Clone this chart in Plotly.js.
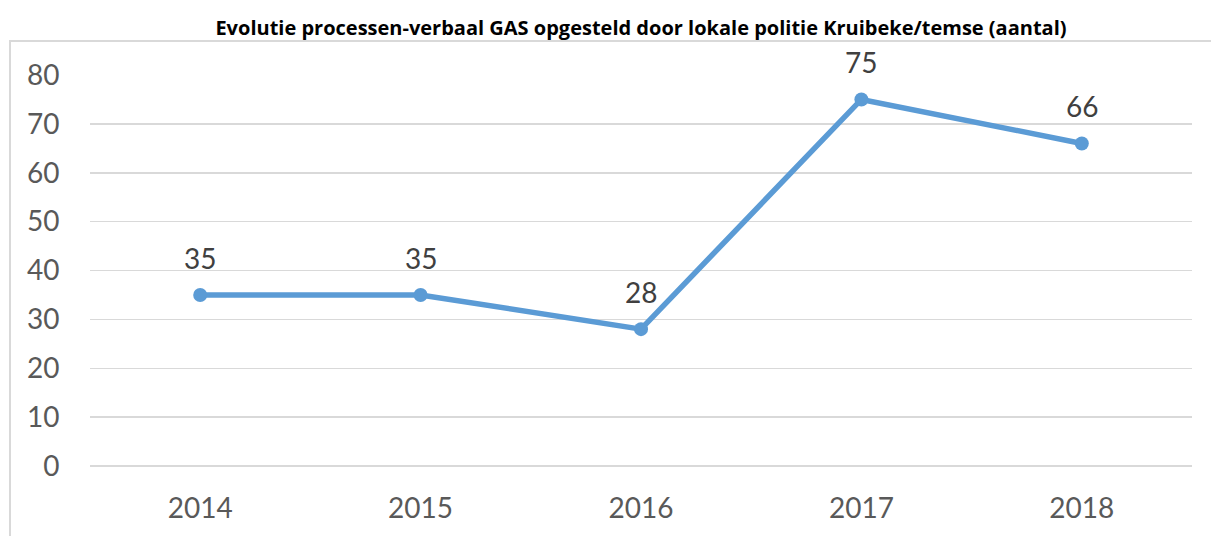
<!DOCTYPE html>
<html><head><meta charset="utf-8">
<script src="https://cdn.plot.ly/plotly-3.0.1.min.js"></script>
<style>html,body{margin:0;padding:0;background:#fff;}#chart{width:1211px;height:536px;}</style>
</head><body><div id="chart"></div>
<script>
const years = ['2014','2015','2016','2017','2018'];
const counts = [35, 35, 28, 75, 66];
const yTicks = [0,10,20,30,40,50,60,70,80];
const titleText = 'Evolutie processen-verbaal GAS opgesteld door lokale politie Kruibeke/temse (aantal)';

const trace = {
  x: years, y: counts, type: 'scatter', mode: 'lines+markers',
  line: {color: '#5B9BD5', width: 5.5},
  marker: {color: '#5B9BD5', size: 14},
  hoverinfo: 'x+y'
};
const annotations = years.map((yr, i) => ({
  x: i, y: counts[i], xref: 'x', yref: 'y', text: String(counts[i]),
  showarrow: false, yshift: 37,
  font: {family: 'Lato, sans-serif', size: 28, color: '#404040'}
}));
const layout = {
  width: 1211, height: 536,
  margin: {l: 90, r: 19, t: 74.5, b: 70},
  paper_bgcolor: '#fff', plot_bgcolor: '#fff',
  showlegend: false,
  title: {text: '<b>' + titleText + '</b>', x: 0.5, xref: 'paper', y: 1 - 28/536, yanchor: 'middle',
    font: {family: '"Open Sans", Lato, sans-serif', size: 20, color: '#000'}},
  xaxis: {type: 'category', range: [-0.5, 4.5], showgrid: false, zeroline: false, showline: false,
    ticks: 'outside', ticklen: 17, tickcolor: 'rgba(0,0,0,0)',
    tickfont: {family: 'Lato, sans-serif', size: 28, color: '#595959'}},
  yaxis: {range: [0, 80], tickvals: yTicks, showgrid: true, gridcolor: '#d9d9d9', gridwidth: 1.5,
    zeroline: true, zerolinecolor: '#d9d9d9', zerolinewidth: 1.5, showline: false,
    ticks: 'outside', ticklen: 24, tickcolor: 'rgba(0,0,0,0)',
    tickfont: {family: 'Lato, sans-serif', size: 28, color: '#595959'}},
  annotations: annotations,
  shapes: [{type: 'rect', xref: 'paper', yref: 'paper', x0: (10-90)/1102, x1: 1.2, y0: -0.5, y1: (466-40.5)/391.5,
    line: {color: '#d9d9d9', width: 2}, fillcolor: 'rgba(0,0,0,0)', layer: 'below'}]
};
Plotly.newPlot('chart', [trace], layout, {displayModeBar: false, staticPlot: true});
</script></body></html>
